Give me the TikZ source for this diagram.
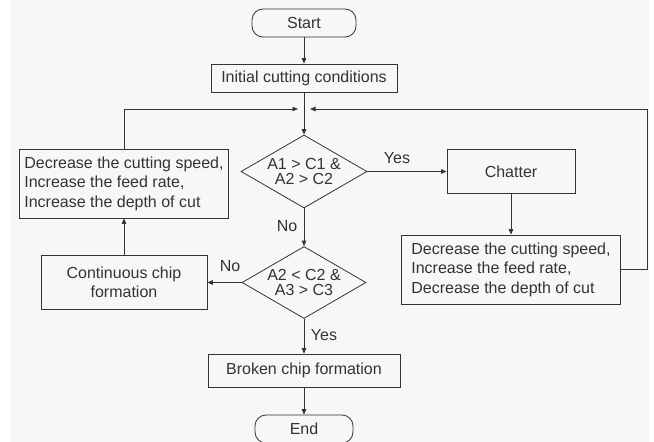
\documentclass[tikz,border=0pt]{standalone}
\usepackage{fontspec}
\setmainfont{Liberation Sans}
\usetikzlibrary{shapes.geometric,arrows.meta}
\definecolor{bgpaper}{HTML}{F7F7F7}
\definecolor{inkline}{HTML}{333333}
\begin{document}
\begin{tikzpicture}
[every node/.style={inner sep=0pt, font=\fontsize{16}{19.5}\selectfont, text=inkline},
 terminal/.style={rectangle, rounded corners=11pt, draw=inkline, line width=0.8pt, fill=bgpaper},
 procbox/.style={rectangle, draw=inkline, line width=0.8pt, fill=bgpaper},
 testbox/.style={diamond, aspect=1.7, draw=inkline, line width=0.8pt, fill=bgpaper, align=center, font=\fontsize{16}{14.5}\selectfont},
 flow/.style={line width=0.8pt, color=inkline, -{Triangle[length=5.5pt,width=4.5pt]}}]
\useasboundingbox (0pt,0pt) rectangle (654pt,-442pt);
\fill [white] (0pt,0pt) rectangle (654pt,-442pt);
\fill [bgpaper] (10pt,0pt) rectangle (649pt,-442pt);
\node (1) [terminal, minimum width=104pt, minimum height=28pt] at (304pt, -23pt) {Start};
\node (2) [procbox, minimum width=186pt, minimum height=28pt] at (304pt, -78pt) {Initial cutting conditions};
\node (3) [testbox, minimum width=126pt, minimum height=73pt] at (304pt, -171.5pt) {A1 > C1 \&\\A2 > C2};
\node (4) [procbox, minimum width=128pt, minimum height=44pt] at (511pt, -171.5pt) {Chatter};
\node (5) [procbox, minimum width=219pt, minimum height=69pt, align=left] at (511pt, -269.5pt) {Decrease the cutting speed,\\Increase the feed rate,\\Decrease the depth of cut};
\node (6) [procbox, minimum width=209pt, minimum height=69pt, align=left] at (124pt, -183.5pt) {Decrease the cutting speed,\\Increase the feed rate,\\Increase the depth of cut};
\node (7) [testbox, minimum width=124pt, minimum height=72pt] at (304pt, -282.5pt) {A2 < C2 \&\\A3 > C3};
\node (8) [procbox, minimum width=166pt, minimum height=54pt, align=center] at (124pt, -282.5pt) {Continuous chip\\formation};
\node (9) [procbox, minimum width=192pt, minimum height=33pt] at (304pt, -370.5pt) {Broken chip formation};
\node (10) [terminal, minimum width=98pt, minimum height=28pt] at (304pt, -429pt) {End};
\coordinate (jl) at (298pt, -109pt);
\coordinate (jr) at (310pt, -109pt);
\coordinate (rc) at (647pt, -109pt);
\draw [flow] (1) -- (2);
\draw [flow] (2) -- (3);
\draw [flow] (3) -- (4);
\draw [flow] (4) -- (5);
\draw [flow] (5) -| (rc) -- (jr);
\draw [flow] (3) -- (7);
\draw [flow] (7) -- (8);
\draw [flow] (8) -- (6);
\draw [flow] (6) |- (jl);
\draw [flow] (7) -- (9);
\draw [flow] (9) -- (10);
\node at (397pt, -158pt) {Yes};
\node at (287pt, -226pt) {No};
\node at (230pt, -266pt) {No};
\node at (324pt, -335pt) {Yes};
\end{tikzpicture}
\end{document}
